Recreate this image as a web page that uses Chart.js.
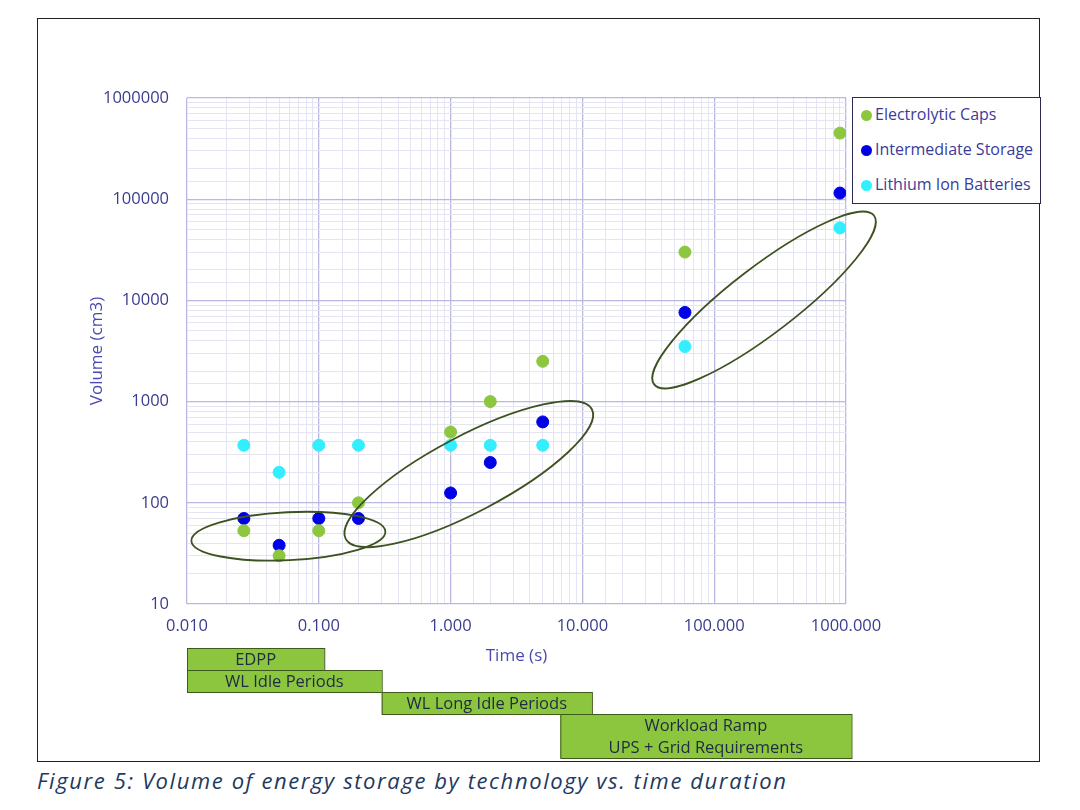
<!DOCTYPE html>
<html><head><meta charset="utf-8">
<script src="https://cdn.jsdelivr.net/npm/chart.js@4"></script>
<style>
body{margin:0;background:#fff;width:1080px;height:810px;position:relative;font-family:"Open Sans",sans-serif;overflow:hidden}
#frame{position:absolute;left:37px;top:18px;width:1003px;height:744px;border:1px solid #222;box-sizing:border-box}
#legend{position:absolute;left:852px;top:97px;width:189px;height:107px;border:1.5px solid #2a2a55;box-sizing:border-box;background:#fff;font-size:16px;color:#3b3b9b;padding:4px 0 0 8px}
#legend div{height:35px;line-height:24px;white-space:nowrap}
#legend span{display:inline-block;width:11px;height:11px;border-radius:50%;margin-right:3px;vertical-align:-1px}
#caption{position:absolute;left:37px;top:765px;font-style:italic;font-size:22px;letter-spacing:1.6px;color:#1f3a5f}
</style></head><body>
<div id="frame"><canvas id="c"></canvas></div>
<div id="legend">
<div><span style="background:#8dc63f"></span>Electrolytic Caps</div>
<div><span style="background:#0000e6"></span>Intermediate Storage</div>
<div><span style="background:#33eeff"></span>Lithium Ion Batteries</div>
</div>
<div id="caption">Figure 5: Volume of energy storage by technology vs. time duration</div>
<script>
const times = [0.027, 0.05, 0.1, 0.2, 1, 2, 5, 60, 900];
const electrolytic = [53, 30, 53, 100, 500, 1000, 2500, 30000, 450000];
const intermediate = [70, 38, 70, 70, 125, 250, 630, 7600, 115000];
const lithium = [370, 200, 370, 370, 370, 370, 370, 3500, 52000];
const xTickLabels = ['0.010', '0.100', '1.000', '10.000', '100.000', '1000.000'];
const yTickLabels = ['10', '100', '1000', '10000', '100000', '1000000'];
// ellipses: major axis end points in data units, half minor axis in px
const ellipses = [
    { a: [0.0108, 42], b: [0.32, 52], minor: 24 },
    { a: [0.16, 44], b: [11.8, 840], minor: 38 },
    { a: [35, 1480], b: [1630, 69000], minor: 33 }
];
// timeline boxes
const periods = [
    { from: 0.01, to: 0.11, row: 0, rows: 1, text: ['EDPP'] },
    { from: 0.01, to: 0.3, row: 1, rows: 1, text: ['WL Idle Periods'] },
    { from: 0.3, to: 11.8, row: 2, rows: 1, text: ['WL Long Idle Periods'] },
    { from: 6.8, to: 1100, row: 3, rows: 2, text: ['Workload Ramp', 'UPS + Grid Requirements'] }
];

function pts(ys) { return times.map(function (t, i) { return { x: t, y: ys[i] }; }); }
function isMajor(v) { const l = Math.log10(v); return Math.abs(l - Math.round(l)) < 1e-6; }

const extras = {
    id: 'extras',
    afterDatasetsDraw: function (chart) {
        const ctx = chart.ctx, xs = chart.scales.x, ys = chart.scales.y;
        ctx.save();
        ctx.strokeStyle = '#3d5220';
        ctx.lineWidth = 1.8;
        ellipses.forEach(function (e) {
            const x1 = xs.getPixelForValue(e.a[0]), y1 = ys.getPixelForValue(e.a[1]);
            const x2 = xs.getPixelForValue(e.b[0]), y2 = ys.getPixelForValue(e.b[1]);
            const cx = (x1 + x2) / 2, cy = (y1 + y2) / 2;
            const r = Math.hypot(x2 - x1, y2 - y1) / 2;
            ctx.beginPath();
            ctx.ellipse(cx, cy, r, e.minor, Math.atan2(y2 - y1, x2 - x1), 0, Math.PI * 2);
            ctx.stroke();
        });
        const top0 = chart.chartArea.bottom + 44, rowH = 22;
        ctx.font = '16.5px "Open Sans"';
        ctx.textAlign = 'center';
        ctx.textBaseline = 'middle';
        periods.forEach(function (p) {
            const l = xs.getPixelForValue(p.from), r = xs.getPixelForValue(p.to);
            const t = top0 + p.row * rowH, h = p.rows * rowH;
            ctx.fillStyle = '#8cc63e';
            ctx.fillRect(l, t, r - l, h);
            ctx.strokeStyle = '#3e5a1a';
            ctx.lineWidth = 1;
            ctx.strokeRect(l + 0.5, t + 0.5, r - l, h);
            ctx.fillStyle = '#1f2a44';
            p.text.forEach(function (s, i) { ctx.fillText(s, (l + r) / 2, t + rowH * (i + 0.5) + 1); });
        });
        ctx.restore();
    }
};

function ds(label, ys, color) {
    return { label: label, data: pts(ys), backgroundColor: color, borderColor: color, pointRadius: 6, pointHoverRadius: 6 };
}

new Chart(document.getElementById('c'), {
    type: 'scatter',
    data: { datasets: [ds('Electrolytic Caps', electrolytic, '#8dc63f'), ds('Intermediate Storage', intermediate, '#0000e6'), ds('Lithium Ion Batteries', lithium, '#33eeff')] },
    options: {
        responsive: true, maintainAspectRatio: false, animation: false,
        layout: { padding: { left: 49, top: 79, right: 193, bottom: 95 } },
        plugins: { legend: { display: false }, tooltip: { enabled: false } },
        scales: {
            x: {
                type: 'logarithmic', min: 0.01, max: 1000,
                afterFit: function (s) { s.height = 62; },
                border: { display: false },
                grid: { color: function (c) { return isMajor(c.tick.value) ? '#b8b8e0' : '#e4e4f2'; }, lineWidth: function (c) { return isMajor(c.tick.value) ? 1.3 : 1; }, drawTicks: false },
                ticks: {
                    autoSkip: false, maxRotation: 0, padding: 12, color: '#3b3b8f', font: { size: 16.5, family: 'Open Sans' },
                    callback: function (v) { return isMajor(v) ? xTickLabels[Math.round(Math.log10(v)) + 2] : ''; }
                },
                title: { display: true, text: 'Time (s)', color: '#4a4ab0', font: { size: 17, family: 'Open Sans' }, padding: 0 }
            },
            y: {
                type: 'logarithmic', min: 10, max: 1000000,
                afterFit: function (s) { s.width = 100; },
                border: { display: false },
                grid: { color: function (c) { return isMajor(c.tick.value) ? '#b8b8e0' : '#e4e4f2'; }, lineWidth: function (c) { return isMajor(c.tick.value) ? 1.3 : 1; }, drawTicks: false },
                ticks: {
                    autoSkip: false, padding: 18, color: '#3b3b8f', font: { size: 16.5, family: 'Open Sans' },
                    callback: function (v) { return isMajor(v) ? yTickLabels[Math.round(Math.log10(v)) - 1] : ''; }
                },
                title: { display: true, text: 'Volume (cm3)', color: '#4a4ab0', font: { size: 17, family: 'Open Sans' }, padding: 0 }
            }
        }
    },
    plugins: [extras]
});
</script>
</body></html>
